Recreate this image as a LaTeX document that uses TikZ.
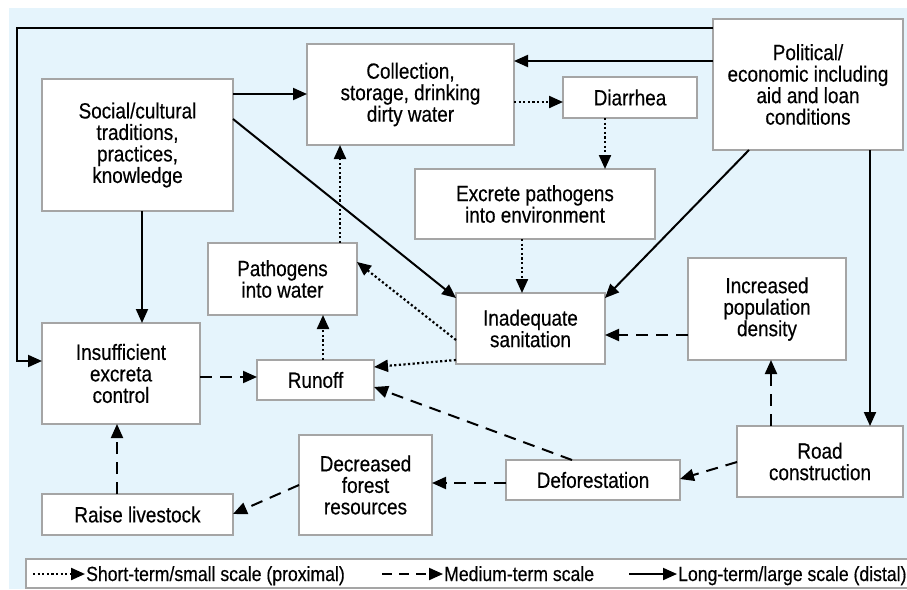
\documentclass[tikz,border=0pt]{standalone}
\usepackage{fontspec}
\setmainfont{Liberation Sans}[FakeStretch=0.86,FakeBold=0.4]
\usetikzlibrary{arrows.meta}

\definecolor{bgblue}{RGB}{229,244,252}
\definecolor{boxgray}{RGB}{165,165,165}

\tikzset{
	flowbox/.style={draw=boxgray, line width=1.2pt, fill=white, align=center, inner sep=2pt, outer sep=0pt,
		font=\fontsize{22}{21.5}\selectfont},
	longterm/.style={line width=2pt, -{Triangle[length=14pt,width=12pt]}},
	midterm/.style={line width=2pt, dash pattern=on 12pt off 8pt, -{Triangle[length=14pt,width=12pt]}},
	shortterm/.style={line width=2.2pt, dash pattern=on 2.2pt off 2.4pt, -{Triangle[length=14pt,width=12pt]}},
	legendtext/.style={anchor=base west, inner sep=1pt, font=\fontsize{20.5}{21}\selectfont},
}

\newcommand{\flowbox}[6]{
	\pgfmathsetmacro{\FBcx}{(#2+#4)/2}
	\pgfmathsetmacro{\FBcy}{(#3+#5)/2}
	\pgfmathsetmacro{\FBw}{#4-#2}
	\pgfmathsetmacro{\FBh}{#5-#3}
	\node[flowbox, minimum width=\FBw pt, minimum height=\FBh pt] (#1) at (\FBcx,\FBcy) {#6};
}

\begin{document}
\begin{tikzpicture}[x=1pt,y=-1pt]
\useasboundingbox (0,0) rectangle (907,589);
\fill[bgblue] (9,8) rectangle (907,589);

% boxes
\flowbox{soc}{42}{79}{233}{211}{Social/cultural\\traditions,\\practices,\\knowledge}
\flowbox{col}{307}{44}{514}{145}{Collection,\\storage, drinking\\dirty water}
\flowbox{dia}{563}{77}{697}{118}{Diarrhea}
\flowbox{pol}{713}{19}{903}{150}{Political/\\economic including\\aid and loan\\conditions}
\flowbox{exc}{415}{169}{655}{239}{Excrete pathogens\\into environment}
\flowbox{path}{208}{243}{357}{315}{Pathogens\\into water}
\flowbox{san}{456}{293}{605}{364}{Inadequate\\sanitation}
\flowbox{pop}{688}{258}{846}{360}{Increased\\population\\density}
\flowbox{ins}{42}{323}{200}{424}{Insufficient\\excreta\\control}
\flowbox{run}{257}{360}{374}{400}{Runoff}
\flowbox{forest}{299}{435}{432}{535}{Decreased\\forest\\resources}
\flowbox{live}{42}{494}{233}{535}{Raise livestock}
\flowbox{def}{506}{460}{680}{500}{Deforestation}
\flowbox{road}{737}{426}{903}{497}{Road\\construction}

% long-term links
\coordinate (topleft) at (17,28);
\coordinate (botleft) at (17,361);
\draw[longterm] (pol.west |- 0,28) -- (topleft) -- (botleft) -- (ins.west |- 0,361);
\draw[longterm] (pol.west |- 0,61) -- (col.east |- 0,61);
\draw[longterm] (soc.east |- 0,94) -- (col.west |- 0,94);
\draw[longterm] (soc.east |- 0,119) -- (san.west |- 0,298);
\draw[longterm] (soc.south -| 142,0) -- (ins.north -| 142,0);
\draw[longterm] (pol.south -| 749,0) -- (san.east |- 0,298);
\draw[longterm] (pol.south -| 870,0) -- (road.north -| 870,0);

% short-term links
\draw[shortterm] (col.east |- 0,102) -- (dia.west |- 0,102);
\draw[shortterm] (dia.south -| 605,0) -- (exc.north -| 605,0);
\draw[shortterm] (exc.south -| 522,0) -- (san.north -| 522,0);
\draw[shortterm] (san.west |- 0,340) -- (path.east |- 0,262);
\draw[shortterm] (san.west |- 0,360) -- (run.east |- 0,367);
\draw[shortterm] (path.north -| 340,0) -- (col.south -| 340,0);
\draw[shortterm] (run.north -| 323,0) -- (path.south -| 323,0);

% medium-term links
\draw[midterm] (ins.east |- 0,377) -- (run.west |- 0,377);
\draw[midterm] (pop.west |- 0,335) -- (san.east |- 0,335);
\draw[midterm] (road.north -| 771,0) -- (pop.south -| 771,0);
\draw[midterm] (road.west |- 0,462) -- (def.east |- 0,479);
\draw[midterm] (def.north -| 572,0) -- (run.east |- 0,387);
\draw[midterm] (def.west |- 0,483) -- (forest.east |- 0,483);
\draw[midterm] (forest.west |- 0,485) -- (live.east |- 0,514);
\draw[midterm] (live.north -| 117,0) -- (ins.south -| 117,0);

% legend
\fill[white] (26,559) rectangle (907,588);
\draw[boxgray, line width=1.2pt] (907,559) -- (26,559) -- (26,588) -- (907,588);
\coordinate (shortstart) at (33,574);
\coordinate (midstart) at (382,574);
\coordinate (longstart) at (629,574);
\node[legendtext] (shortlbl) at (85,581) {Short-term/small scale (proximal)};
\node[legendtext] (midlbl) at (443,581) {Medium-term scale};
\node[legendtext] (longlbl) at (677,581) {Long-term/large scale (distal)};
\draw[shortterm] (shortstart) -- (shortlbl.west |- shortstart);
\draw[midterm, dash pattern=on 10pt off 7pt] (midstart) -- (midlbl.west |- midstart);
\draw[longterm] (longstart) -- (longlbl.west |- longstart);
\end{tikzpicture}
\end{document}
